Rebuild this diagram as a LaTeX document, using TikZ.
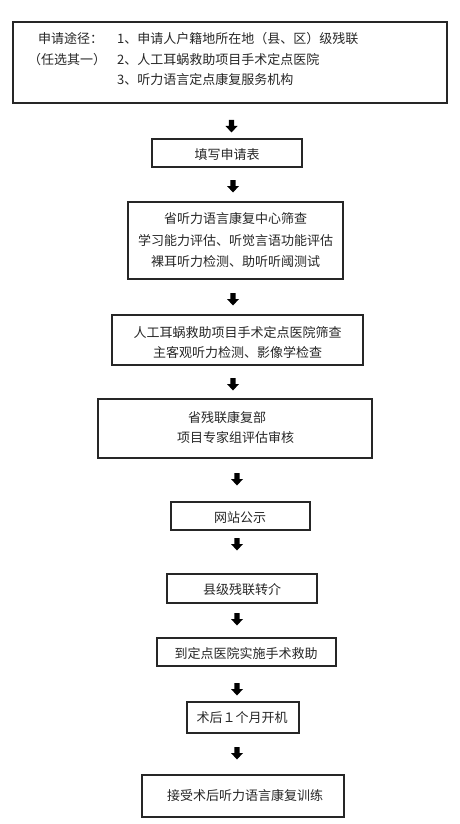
\documentclass[tikz,border=0pt]{standalone}
\usepackage{fontspec}
\newfontfamily\cjk{Noto Sans CJK SC}
\tikzset{
  box/.style={draw=black!85, line width=1.1pt, inner sep=0pt, fill=none},
  txt/.style={font=\cjk\fontsize{13}{21.5}\selectfont, inner sep=0pt, text=black!85, align=center},
  darrow/.pic={\fill[black] (-2.6,0) -- (2.6,0) -- (2.6,6) -- (6,6) -- (0,12.5) -- (-6,6) -- (-2.6,6) -- cycle;}
}
\begin{document}
\begin{tikzpicture}[x=1pt,y=-1pt]
\useasboundingbox (0,0) rectangle (460,824);
% box 1
\node[box, minimum width=434pt, minimum height=81pt] (b1) at (230,62.5) {};
\node[txt, anchor=west] (l1) at (38,39) {申请途径：};
\node[txt, anchor=west] (l2) at (28,60) {（任选其一）};
\node[txt, anchor=west] (r1) at (117,39) {1、申请人户籍地所在地（县、区）级残联};
\node[txt, anchor=west] (r2) at (117,60) {2、人工耳蜗救助项目手术定点医院};
\node[txt, anchor=west] (r3) at (117,80) {3、听力语言定点康复服务机构};
\pic at (231.5,120) {darrow};
% box 2
\node[box, minimum width=150pt, minimum height=28pt] (b2) at (227,153) {};
\node[txt] (t2) at (227,154.5) {填写申请表};
\pic at (233,180) {darrow};
% box 3
\node[box, minimum width=215pt, minimum height=77pt] (b3) at (235.5,240.5) {};
\node[txt] (t3) at (235.5,240.5) {省听力语言康复中心筛查\\学习能力评估、听觉言语功能评估\\裸耳听力检测、助听听阈测试};
\pic at (233,293) {darrow};
% box 4
\node[box, minimum width=251pt, minimum height=50pt] (b4) at (237.5,340) {};
\node[txt, font=\cjk\fontsize{13}{20}\selectfont] (t4) at (237.5,343) {人工耳蜗救助项目手术定点医院筛查\\主客观听力检测、影像学检查};
\pic at (233,378) {darrow};
% box 5
\node[box, minimum width=274pt, minimum height=59pt] (b5) at (235,428.5) {};
\node[txt, anchor=west] (t5a) at (188,418) {省残联康复部};
\node[txt, anchor=west] (t5b) at (177,438) {项目专家组评估审核};
\pic at (237,473) {darrow};
% box 6
\node[box, minimum width=139pt, minimum height=28pt] (b6) at (240.5,516) {};
\node[txt] (t6) at (240,518) {网站公示};
\pic at (237,538) {darrow};
% box 7
\node[box, minimum width=150pt, minimum height=29pt] (b7) at (242,588.5) {};
\node[txt] (t7) at (242,590) {县级残联转介};
\pic at (237,613) {darrow};
% box 8
\node[box, minimum width=179pt, minimum height=28pt] (b8) at (246.5,652) {};
\node[txt] (t8) at (246,654) {到定点医院实施手术救助};
\pic at (237,683) {darrow};
% box 9
\node[box, minimum width=112pt, minimum height=31pt] (b9) at (243,717.5) {};
\node[txt] (t9) at (242,718) {术后１个月开机};
\pic at (237,747) {darrow};
% box 10
\node[box, minimum width=202pt, minimum height=42pt] (b10) at (243,796) {};
\node[txt] (t10) at (245,796) {接受术后听力语言康复训练};
\end{tikzpicture}
\end{document}
